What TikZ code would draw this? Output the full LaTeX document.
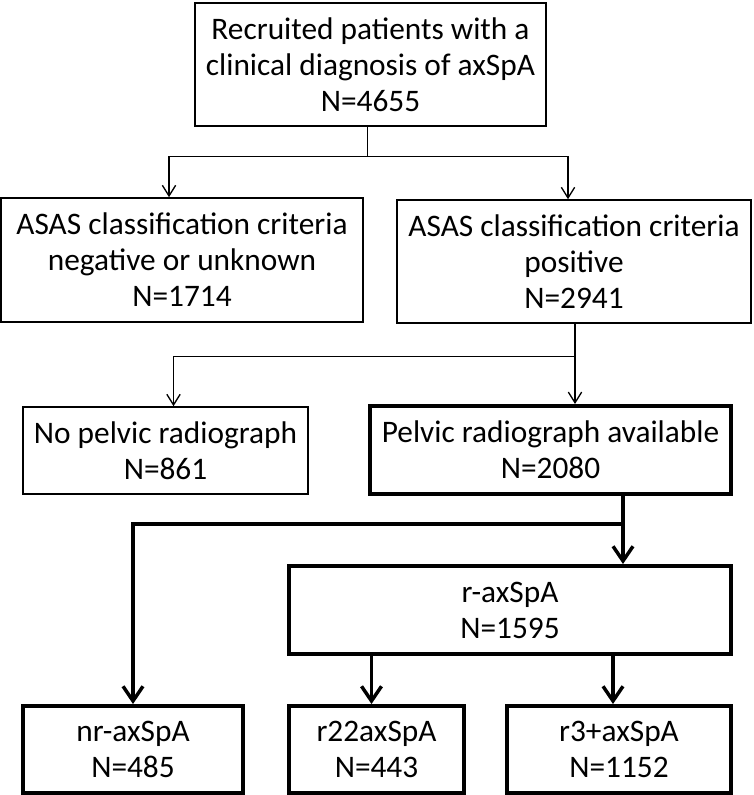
\documentclass[tikz,border=0pt]{standalone}
\usepackage{fontspec}
\setmainfont{Carlito}
\usetikzlibrary{arrows.meta,calc}

\tikzset{
  box/.style={draw, line width=1.2pt, align=center, inner sep=0pt, font=\fontsize{23.5}{27}\selectfont},
  thickbox/.style={box, line width=3pt},
  thin/.style={line width=1pt, -{Straight Barb[length=8pt,width=10pt]}},
  fat/.style={line width=2.6pt, -{Straight Barb[length=11pt,width=15pt,line width=2.6pt]}}
}

\begin{document}
\begin{tikzpicture}[x=0.75pt, y=-0.75pt]
\useasboundingbox (0,0) rectangle (753,795);

\node[box, minimum width=351*0.75pt, minimum height=123*0.75pt] (top) at (370.5,64.5)
  {Recruited patients with a\\clinical diagnosis of axSpA\\N=4655};
\node[box, minimum width=362*0.75pt, minimum height=124*0.75pt] (neg) at (182,260)
  {ASAS classification criteria\\negative or unknown\\N=1714};
\node[box, minimum width=354*0.75pt, minimum height=123*0.75pt] (pos) at (574,261.5)
  {ASAS classification criteria\\positive\\N=2941};

\node[box, minimum width=285*0.75pt, minimum height=87*0.75pt] (nopel) at (165.5,450.5)
  {No pelvic radiograph\\N=861};
\node[thickbox, minimum width=361*0.75pt, minimum height=88*0.75pt] (pel) at (550.5,450)
  {Pelvic radiograph available\\N=2080};

\node[thickbox, minimum width=442*0.75pt, minimum height=88*0.75pt] (rax) at (510,610)
  {r-axSpA\\N=1595};

\node[thickbox, minimum width=220*0.75pt, minimum height=87*0.75pt] (nr) at (133,749.5)
  {nr-axSpA\\N=485};
\node[thickbox, minimum width=175*0.75pt, minimum height=87*0.75pt] (r22) at (376.5,749.5)
  {r22axSpA\\N=443};
\node[thickbox, minimum width=224*0.75pt, minimum height=87*0.75pt] (r3) at (619,749.5)
  {r3+axSpA\\N=1152};

% first split
\coordinate (s1) at ($(top.south)+(-3,30)$);
\draw[line width=1pt] ([xshift=-3*0.75pt]top.south) -- (s1);
\draw[thin] (s1) -| ([xshift=-13*0.75pt]neg.north);
\draw[thin] (s1) -| ([xshift=-6*0.75pt]pos.north);

% second split
\coordinate (s2) at ($(pos.south)+(1,33)$);
\draw[line width=1pt] ([xshift=0.75pt]pos.south) -- (s2);
\draw[thin] (s2) -| ([xshift=8*0.75pt]nopel.north);
\draw[thin] (s2) -- (s2 |- pel.north);

% third split
\coordinate (s3) at ($(pel.south -| r3)+(4,28)$);
\draw[line width=2.6pt] (pel.south -| s3) -- (s3);
\draw[fat] (s3) -- (s3 |- rax.north);
\draw[fat] ([xshift=1.3pt]s3) -| (nr.north);
\draw[fat] ($(rax.south -| r22)+(-5,0)$) -- ($(r22.north)+(-5,0)$);
\draw[fat] ($(rax.south -| r3)+(-6,0)$) -- ($(r3.north)+(-6,0)$);

\end{tikzpicture}
\end{document}
